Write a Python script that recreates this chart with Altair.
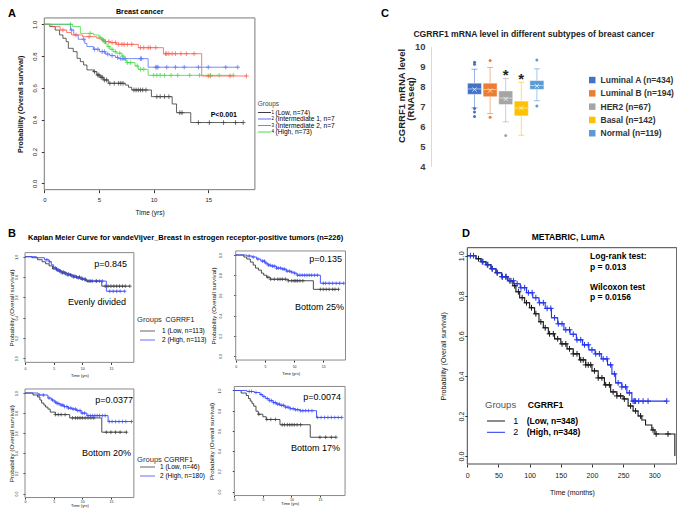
import altair as alt
import pandas as pd

FONT = "Liberation Sans"
PLUS = "M-1,0L1,0M0,-1L0,1"
XMARK = "M-1,-1L1,1M-1,1L1,-1"
W, H = 669, 501   # whole drawing area (page margin 8px)

# ================= DATA =================
# ---- Panel A: Breast cancer, 4 CGRRF1 groups (years) ----
A_colors = ["#3c3c3c", "#5a72ff", "#ff5a4c", "#46dc46"]
A_low_t = [0, 0.5, 1.0, 1.4, 1.7, 2.0, 2.2, 2.65, 3.0, 3.3, 3.6, 3.9, 4.5, 4.8, 5.1, 5.4, 5.85, 7.4, 7.7, 8.0, 9.8, 11.7, 12.1, 13.4]
A_low_s = [1.0, 0.986, 0.964, 0.933, 0.912, 0.891, 0.849, 0.828, 0.786, 0.765, 0.744, 0.713, 0.702, 0.681, 0.667, 0.65, 0.629, 0.618, 0.604, 0.587, 0.545, 0.499, 0.444, 0.382]
A_low_end = 18.2
A_low_c = [4.6, 4.9, 5.0, 5.2, 5.3, 5.5, 5.7, 6.0, 6.4, 6.8, 7.0, 7.2, 8.2, 8.4, 8.6, 8.8, 9.0, 9.3, 10.3, 10.6, 11.0, 11.4, 12.4, 12.6, 14.1, 15.1, 16.4, 17.5, 18.2]
A_int1_t = [0, 2.4, 2.7, 3.1, 3.7, 3.9, 4.5, 5.05, 5.6, 6.0, 6.5, 6.8, 9.5]
A_int1_s = [1.0, 0.964, 0.933, 0.906, 0.88, 0.86, 0.843, 0.828, 0.813, 0.803, 0.792, 0.784, 0.73]
A_int1_end = 17.7
A_int1_c = [2.5, 3.6, 4.6, 4.9, 5.3, 5.5, 5.8, 6.2, 6.7, 7.0, 7.2, 7.4, 8.8, 8.9, 10.2, 10.3, 10.4, 11.2, 12.0, 12.8, 14.1, 15.0, 16.6, 17.7]
A_int2_t = [0, 0.7, 1.45, 2.05, 2.5, 3.5, 4.8, 5.25, 5.55, 6.0, 6.6, 8.6, 10.9, 14.4]
A_int2_s = [1.0, 0.985, 0.964, 0.948, 0.933, 0.922, 0.912, 0.901, 0.891, 0.885, 0.874, 0.853, 0.815, 0.675]
A_int2_end = 18.5
A_int2_c = [1.7, 2.9, 4.1, 5.4, 5.6, 5.9, 6.2, 6.5, 6.8, 7.1, 7.3, 7.6, 8.0, 8.8, 9.1, 9.5, 9.7, 10.2, 11.1, 11.2, 11.4, 11.7, 12.0, 12.5, 13.0, 13.7, 15.0, 15.2, 17.0, 18.5]
A_high_t = [0, 2.6, 3.3, 4.5, 5.0, 5.2, 5.4, 5.6, 5.75, 6.0, 6.3, 6.6, 7.1, 7.3, 7.5, 8.3, 8.6, 9.5]
A_high_s = [1.0, 0.986, 0.943, 0.933, 0.918, 0.906, 0.891, 0.877, 0.86, 0.843, 0.828, 0.818, 0.8, 0.776, 0.759, 0.738, 0.717, 0.679]
A_high_end = 17.3
A_high_c = [2.4, 4.2, 5.1, 5.3, 5.5, 5.9, 6.2, 6.5, 6.9, 7.2, 7.6, 7.9, 8.5, 8.8, 9.1, 10.0, 10.3, 10.6, 11.0, 11.6, 12.2, 13.3, 14.2, 15.2, 16.0, 17.3]

# ---- Panel B: vandeVijver, ER+ tumors (years) ----
B_colors = ["#3a3a3a", "#3b4bff"]
B1_low_t = [0, 1.2, 2.2, 3.0, 3.6, 4.2, 4.8, 5.6, 6.5, 7.4, 8.5, 9.6, 10.6, 13.4]
B1_low_s = [1, 0.99, 0.97, 0.95, 0.93, 0.91, 0.88, 0.86, 0.84, 0.82, 0.80, 0.78, 0.76, 0.71]
B1_low_end = 18.3
B1_low_c = [5.5, 6.0, 6.5, 7.0, 7.5, 8.0, 8.5, 9.0, 9.5, 10.0, 10.5, 11.0, 11.5, 12.5, 14.0, 14.5, 15.0, 15.5, 16.0, 16.5, 17.0, 17.5, 18.3]
B1_high_t = [0, 2.0, 3.4, 4.2, 4.6, 5.0, 5.5, 6.2, 7.0, 8.0, 9.0, 10.0, 10.8, 14.2]
B1_high_s = [1, 0.99, 0.97, 0.95, 0.92, 0.89, 0.87, 0.85, 0.83, 0.81, 0.79, 0.775, 0.76, 0.66]
B1_high_end = 17.4
B1_high_c = [3.8, 4.3, 5.0, 5.3, 5.6, 5.9, 6.3, 6.7, 7.1, 7.6, 8.2, 8.7, 9.3, 9.9, 10.4, 11.3, 11.8, 12.4, 13.0, 13.5, 14.8, 15.4, 16.0, 16.6, 17.4]

B2_low_t = [0, 1.4, 1.9, 2.5, 3.0, 3.4, 3.9, 4.4, 4.8, 5.3, 5.9, 9.0, 13.3]
B2_low_s = [1, 0.98, 0.96, 0.93, 0.9, 0.87, 0.85, 0.82, 0.8, 0.78, 0.76, 0.745, 0.66]
B2_low_end = 17.6
B2_low_c = [5.5, 6.0, 6.6, 7.2, 7.6, 8.0, 8.5, 9.0, 9.6, 10.0, 10.3, 10.6, 11.0, 11.5, 14.5, 15.0, 15.5, 16.0, 16.6, 17.0, 17.6]
B2_high_t = [0, 1.9, 2.8, 3.6, 4.3, 5.0, 5.5, 6.0, 7.0, 8.0, 8.7, 9.5, 10.0, 10.5, 14.5]
B2_high_s = [1, 0.99, 0.98, 0.96, 0.94, 0.92, 0.9, 0.89, 0.87, 0.86, 0.84, 0.83, 0.82, 0.8, 0.72]
B2_high_end = 18.5
B2_high_c = [2.3, 3.0, 3.8, 4.6, 4.9, 5.2, 5.6, 5.9, 6.3, 6.6, 7.0, 7.3, 7.7, 8.1, 8.4, 8.8, 9.2, 9.6, 10.1, 10.6, 11.0, 11.4, 11.8, 12.2, 12.6, 13.0, 13.5, 14.0, 15.0, 15.4, 16.0, 16.6, 17.2, 17.8, 18.5]

B3_low_t = [0, 1.4, 2.2, 2.6, 2.9, 3.3, 3.6, 4.0, 4.4, 5.3, 7.8, 13.4]
B3_low_s = [1, 0.98, 0.96, 0.93, 0.9, 0.88, 0.86, 0.84, 0.81, 0.785, 0.752, 0.61]
B3_low_end = 17.7
B3_low_c = [5.3, 5.8, 6.3, 7.0, 8.3, 8.8, 9.2, 9.6, 10.0, 10.5, 11.0, 11.5, 12.0, 14.2, 15.0, 15.8, 16.6, 17.7]
B3_high_t = [0, 2.3, 4.0, 4.6, 5.1, 5.6, 6.1, 6.8, 7.5, 8.2, 9.0, 9.8, 10.8, 14.5]
B3_high_s = [1, 0.98, 0.95, 0.93, 0.91, 0.895, 0.88, 0.865, 0.85, 0.84, 0.825, 0.8, 0.775, 0.716]
B3_high_end = 18.6
B3_high_c = [2.5, 3.2, 4.2, 4.8, 5.3, 5.6, 5.9, 6.3, 6.6, 6.9, 7.3, 7.6, 8.0, 8.4, 8.8, 9.2, 9.6, 10.0, 10.4, 11.0, 11.4, 11.8, 12.2, 12.6, 13.0, 13.5, 14.0, 14.7, 15.2, 15.8, 16.4, 17.0, 17.6, 18.6]

B4_low_t = [0, 1.2, 2.1, 2.5, 2.8, 3.1, 3.4, 3.8, 4.2, 5.0, 5.6, 8.0, 13.3]
B4_low_s = [1, 0.975, 0.95, 0.92, 0.895, 0.87, 0.845, 0.795, 0.765, 0.74, 0.713, 0.661, 0.537]
B4_low_end = 17.8
B4_low_c = [4.3, 5.7, 6.4, 7.2, 8.4, 8.8, 9.3, 9.7, 10.1, 10.5, 11.0, 11.6, 15.0, 16.0, 17.0, 17.8]
B4_high_t = [0, 2.2, 3.5, 4.5, 5.0, 5.5, 6.1, 6.8, 7.4, 8.0, 8.9, 9.8, 10.6, 11.5, 14.4]
B4_high_s = [1, 0.99, 0.98, 0.96, 0.94, 0.92, 0.9, 0.88, 0.865, 0.853, 0.835, 0.82, 0.81, 0.8, 0.733]
B4_high_end = 18.8
B4_high_c = [2.6, 3.0, 3.8, 4.7, 5.2, 5.8, 6.2, 6.5, 6.9, 7.2, 7.6, 7.9, 8.3, 8.6, 9.0, 9.4, 9.8, 10.3, 10.7, 11.1, 11.6, 12.0, 12.5, 13.0, 13.6, 14.6, 15.2, 15.8, 16.4, 17.0, 17.6, 18.2, 18.8]

# ---- Panel C: CGRRF1 mRNA by subtype (box summaries) ----
C_sub = ["Luminal A (n=434)", "Luminal B (n=194)", "HER2 (n=67)", "Basal (n=142)", "Normal (n=119)"]
C_colors = ["#4472C4", "#ED7D31", "#A5A5A5", "#FFC000", "#5B9BD5"]
C_q1 = [7.61, 7.49, 7.10, 6.53, 7.86]
C_q3 = [8.17, 8.17, 7.78, 7.27, 8.30]
C_med = [7.88, 7.85, 7.42, 6.93, 8.05]
C_mean = [7.85, 7.80, 7.38, 6.92, 8.03]
C_lo = [6.93, 6.65, 6.23, 5.56, 7.29]
C_hi = [8.87, 8.96, 8.40, 8.22, 8.89]
C_out_sub = ["Luminal A (n=434)"] * 5 + ["Luminal B (n=194)"] * 2 + ["HER2 (n=67)"] + ["Normal (n=119)"] * 2
C_out_val = [9.22, 9.12, 6.90, 6.72, 6.50, 9.31, 6.46, 5.54, 9.33, 7.02]
C_star_sub = ["HER2 (n=67)", "Basal (n=142)"]
C_star_val = [8.80, 8.57]

# ---- Panel D: METABRIC LumA (months) ----
D_colors = ["#1a1a1a", "#2233ee"]
D_low_t = [0, 14, 22, 30, 38, 46, 55, 65, 73, 78, 84, 92, 100, 108, 115, 122, 130, 140, 150, 160, 170, 180, 190, 200, 210, 220, 230, 240, 250, 258, 266, 274, 280, 286, 296, 301, 333]
D_low_s = [1, 0.985, 0.97, 0.955, 0.935, 0.915, 0.895, 0.875, 0.85, 0.82, 0.79, 0.765, 0.74, 0.71, 0.67, 0.64, 0.61, 0.585, 0.56, 0.535, 0.51, 0.48, 0.455, 0.425, 0.39, 0.355, 0.32, 0.3, 0.285, 0.25, 0.225, 0.2, 0.18, 0.155, 0.13, 0.11, 0.0]
D_low_end = 333
D_low_c = [18, 25, 33, 40, 48, 56, 62, 70, 76, 82, 88, 95, 103, 110, 118, 125, 132, 138, 145, 152, 158, 164, 170, 176, 182, 186, 190, 194, 198, 204, 210, 216, 222, 228, 234, 240, 246, 252, 262, 270, 278, 298, 303, 322]
D_high_t = [0, 14, 22, 30, 38, 46, 55, 65, 75, 85, 95, 105, 115, 125, 135, 145, 155, 165, 175, 185, 195, 205, 215, 225, 232, 238, 248, 256, 264]
D_high_s = [1, 0.985, 0.97, 0.955, 0.935, 0.915, 0.895, 0.875, 0.86, 0.84, 0.815, 0.79, 0.765, 0.737, 0.69, 0.66, 0.63, 0.608, 0.58, 0.555, 0.53, 0.51, 0.485, 0.455, 0.41, 0.365, 0.345, 0.315, 0.274]
D_high_end = 320
D_high_c = [5, 10, 24, 32, 40, 48, 56, 62, 68, 74, 80, 86, 92, 98, 104, 110, 116, 122, 128, 134, 140, 146, 152, 158, 164, 170, 176, 182, 188, 194, 200, 206, 212, 218, 224, 230, 236, 242, 248, 254, 260, 266, 268, 270, 275, 282, 290, 320]

# ================= HELPERS =================
ONE = pd.DataFrame({"k": [0]})


def X(v):  # page-pixel -> drawing-area pixel
    return v - 8


def Y(v):
    return v - 8


def km_frames(curves):
    rows, crows = [], []
    for g, ts, ss, tend, cens in curves:
        for t, s in zip(ts, ss):
            rows.append({"t": t, "s": s, "g": g})
        rows.append({"t": tend, "s": ss[-1], "g": g})
        for c in cens:
            v = ss[0]
            for t, s in zip(ts, ss):
                if t <= c:
                    v = s
            crows.append({"t": c, "s": v, "g": g})
    return pd.DataFrame(rows), pd.DataFrame(crows)


def T(text, x, y, size=8, weight="normal", align="left", baseline="middle", angle=None, color="#000"):
    kw = dict(text=text, fontSize=size, fontWeight=weight, align=align, baseline=baseline, color=color, font=FONT)
    if angle is not None:
        kw["angle"] = angle
    return alt.Chart(ONE).mark_text(**kw).encode(x=alt.value(X(x)), y=alt.value(Y(y)))


def R(x1, x2, y, color, w=1.0):
    return alt.Chart(ONE).mark_rule(color=color, strokeWidth=w).encode(
        x=alt.value(X(x1)), x2=alt.value(X(x2)), y=alt.value(Y(y)))


def km_panel(curves, colors, xmax, x0, xpx_per, ytop1, ybot0, xvals, ax_x, ax_y, frame, lw, csize, cstroke,
             ann, opacity=1.0):
    """x0: page px of t=0 ; xpx_per: px per unit ; ytop1/ybot0: page px of surv 1.0 / 0.0"""
    keys = [c[0] for c in curves]
    ldf, cdf = km_frames(curves)
    unit = ybot0 - ytop1
    xr = [X(x0), X(x0 + xmax * xpx_per)]
    yr = [Y(ybot0 + 0.04 * unit), Y(ytop1 - 0.04 * unit)]

    def xs():
        return alt.Scale(domain=[0, xmax], range=xr, nice=False, zero=False)

    def ys():
        return alt.Scale(domain=[-0.04, 1.04], range=yr, nice=False, zero=False)

    def col():
        return alt.Color("g:N", scale=alt.Scale(domain=keys, range=colors), legend=None)

    xaxis = alt.Axis(orient="bottom", offset=yr[0] - H, values=xvals, format="d", labelFontSize=ax_x["fs"],
                     tickSize=ax_x["tick"], labelPadding=ax_x["lpad"], domain=False, grid=False,
                     title=ax_x["title"], titleFontSize=ax_x["tfs"], titleFontWeight="normal",
                     titlePadding=ax_x["tpad"], labelFlush=False, labelOverlap=False, tickColor="#333",
                     labelColor="#222", titleColor="#111")
    yaxis = alt.Axis(orient="left", offset=-xr[0], values=[0, 0.2, 0.4, 0.6, 0.8, 1.0], format=".1f",
                     labelFontSize=ax_y["fs"], labelAngle=270, labelAlign="center", labelBaseline="bottom",
                     tickSize=ax_y["tick"], labelPadding=ax_y["lpad"], domain=False, grid=False,
                     title=ax_y["title"], titleFontSize=ax_y["tfs"], titleFontWeight=ax_y["tw"],
                     titlePadding=ax_y["tpad"], labelFlush=False, labelOverlap=False, tickColor="#333",
                     labelColor="#222", titleColor="#111")
    fdf = pd.DataFrame({"x0": [0], "x1": [xmax], "y0": [-0.04], "y1": [1.04]})
    box = alt.Chart(fdf).mark_rect(fill="transparent", stroke=frame, strokeWidth=1).encode(
        x=alt.X("x0:Q", scale=xs(), axis=xaxis), x2="x1:Q", y=alt.Y("y0:Q", scale=ys(), axis=yaxis), y2="y1:Q")
    lines = alt.Chart(ldf).mark_line(interpolate="step-after", strokeWidth=lw, opacity=opacity).encode(
        x=alt.X("t:Q", scale=xs(), axis=None), y=alt.Y("s:Q", scale=ys(), axis=None), color=col())
    cens = alt.Chart(cdf).mark_point(shape=PLUS, size=csize, filled=False, strokeWidth=cstroke,
                                     opacity=opacity).encode(
        x=alt.X("t:Q", scale=xs(), axis=None), y=alt.Y("s:Q", scale=ys(), axis=None), color=col())
    return [box, lines, cens] + list(ann)


# ================= PANEL A =================
A_curves = [("Low", A_low_t, A_low_s, A_low_end, A_low_c),
            ("Int1", A_int1_t, A_int1_s, A_int1_end, A_int1_c),
            ("Int2", A_int2_t, A_int2_s, A_int2_end, A_int2_c),
            ("High", A_high_t, A_high_s, A_high_end, A_high_c)]
A_leg_y = [112.5, 119, 125.5, 132]
A_leg_txt = ["(Low, n=74)", "(Intermediate 1, n=7", "(Intermediate 2, n=7", "(High, n=73)"]
A_ann = [T("A", 8, 8, 11, "bold", baseline="top"),
         T("Breast cancer", 139.7, 11.5, 7.2, "bold", align="center"),
         T("P<0.001", 210.7, 115.3, 7, "bold"),
         T("Groups", 257.7, 104, 6.5, color="#444")]
for i in range(4):
    A_ann.append(R(258, 271, A_leg_y[i], A_colors[i], 1))
    A_ann.append(T(str(i + 1), 271.6, A_leg_y[i], 4.5))
    A_ann.append(T(A_leg_txt[i], 275.5, A_leg_y[i], 6.6))
panelA = km_panel(A_curves, A_colors, 19.27, 44.3, 10.93, 24.3, 183.3, [0, 5, 10, 15],
                  dict(fs=6, tick=3, lpad=3.5, title="Time (yrs)", tfs=6.5, tpad=7),
                  dict(fs=6, tick=3, lpad=4, title="Probability (Overall survival)", tfs=7.2, tw="bold", tpad=6.5),
                  "#7a7a7a", 0.9, 22, 0.8, A_ann, 0.9)


# ================= PANEL B =================
def b_legend(gy, y1, y2, tx, lowtxt, hightxt, cx):
    return [T("Groups", 137, gy, 7.6, color="#333"),
            T("CGRRF1", cx, gy, 7, color="#111"),
            R(140, 155, y1, B_colors[0], 0.8),
            R(140, 155, y2, B_colors[1], 0.8),
            T(lowtxt, tx, y1, 6.5),
            T(hightxt, tx, y2, 6.5)]


def b_panel(low, high, xmax, x0, xper, ytop1, ybot0, ylpad, ytpad, pval, label, pv_xy, lab_xy, extra=(),
            xax=(2, 2, 3.5)):
    curves = [("Low",) + low, ("High",) + high]
    ann = [T(pval, pv_xy[0], pv_xy[1], 9, align="right"),
           T(label, lab_xy[0], lab_xy[1], 9, align="right")] + list(extra)
    return km_panel(curves, B_colors, xmax, x0, xper, ytop1, ybot0, [0, 5, 10, 15],
                    dict(fs=3.5, tick=xax[0], lpad=xax[1], title="Time (yrs)", tfs=4, tpad=xax[2]),
                    dict(fs=3.5, tick=2, lpad=ylpad, title="Probability (Overall survival)", tfs=6.2,
                         tw="normal", tpad=ytpad),
                    "#8a8a8a", 0.9, 14, 0.7, ann)


B1_extra = [T("B", 8, 228, 11, "bold", baseline="top"),
            T("Kaplan Meier Curve for vandeVijver_Breast in estrogen receptor-positive tumors (n=226)",
              28, 238, 7.5, "bold")] + \
           b_legend(320, 331, 340, 162, "1 (Low, n=113)", "2 (High, n=113)", 165.5)
panelB1 = b_panel((B1_low_t, B1_low_s, B1_low_end, B1_low_c), (B1_high_t, B1_high_s, B1_high_end, B1_high_c),
                  19.0, 25, 5.73, 256.7, 358.3, 4.7, 0.3,
                  "p=0.845", "Evenly divided", (127, 264), (126, 302), B1_extra)
panelB2 = b_panel((B2_low_t, B2_low_s, B2_low_end, B2_low_c), (B2_high_t, B2_high_s, B2_high_end, B2_high_c),
                  18.8, 235.7, 5.84, 255, 356, 11, 2.5,
                  "p=0.135", "Bottom 25%", (342, 259), (344, 307))
panelB3 = b_panel((B3_low_t, B3_low_s, B3_low_end, B3_low_c), (B3_high_t, B3_high_s, B3_high_end, B3_high_c),
                  19.0, 25, 5.73, 393, 493.5, 4.7, 0.3,
                  "p=0.0377", "Bottom 20%", (133, 400), (131, 453),
                  b_legend(460, 467, 476, 160, "1 (Low, n=46)", "2 (High, n=180)", 164),
                  xax=(1.5, 0.5, 0.5))
panelB4 = b_panel((B4_low_t, B4_low_s, B4_low_end, B4_low_c), (B4_high_t, B4_high_s, B4_high_end, B4_high_c),
                  19.4, 234.3, 5.71, 390.5, 491.5, 11, 2.5,
                  "p=0.0074", "Bottom 17%", (341, 397), (340, 448), xax=(1.5, 0.5, 0.5))

# ================= PANEL C =================
cdf = pd.DataFrame({"sub": C_sub, "q1": C_q1, "q3": C_q3, "med": C_med, "mean": C_mean, "lo": C_lo, "hi": C_hi})
odf = pd.DataFrame({"sub": C_out_sub, "v": C_out_val})
sdf = pd.DataFrame({"sub": C_star_sub, "v": C_star_val})


def cx():
    return alt.X("sub:N", sort=C_sub,
                 scale=alt.Scale(type="band", domain=C_sub, paddingInner=0.1, paddingOuter=0,
                                 range=[X(467.5), X(543.9)]), axis=None)


def cy(field, axis=None):
    return alt.Y(field, scale=alt.Scale(domain=[4, 10], nice=False, zero=False, range=[Y(166.3), Y(46.7)]),
                 axis=axis)


def ccol(legend=None):
    return alt.Color("sub:N", sort=C_sub, scale=alt.Scale(domain=C_sub, range=C_colors), legend=legend)


c_legend = alt.Legend(title=None, orient="none", legendX=X(588), legendY=Y(80.3) - 4.5,
                      symbolType="square", symbolSize=42, symbolStrokeWidth=0,
                      labelFontSize=8.5, labelFontWeight="bold", labelColor="#333",
                      rowPadding=4.3, labelOffset=4, labelFont=FONT, padding=0, symbolOpacity=1)
c_yaxis = alt.Axis(orient="left", offset=-X(431), values=[4, 5, 6, 7, 8, 9, 10], format="d", labelFontSize=9.5,
                   labelFontWeight="bold", labelColor="#404040", ticks=False, domain=True, domainColor="#d9d9d9",
                   domainWidth=1, grid=False, title=None, labelPadding=6, labelFlush=False)
c_whisk = alt.Chart(cdf).mark_rule(strokeWidth=1, opacity=0.55).encode(
    x=cx(), y=cy("lo:Q", c_yaxis), y2="hi:Q", color=ccol())
c_box = alt.Chart(cdf).mark_bar(stroke="#ffffff", strokeOpacity=0.45, strokeWidth=1).encode(
    x=cx(), y=cy("q1:Q"), y2="q3:Q", color=ccol(c_legend))
c_caplo = alt.Chart(cdf).mark_tick(size=6, thickness=1, opacity=0.6).encode(x=cx(), y=cy("lo:Q"), color=ccol())
c_caphi = alt.Chart(cdf).mark_tick(size=6, thickness=1, opacity=0.6).encode(x=cx(), y=cy("hi:Q"), color=ccol())
c_med = alt.Chart(cdf).mark_tick(size=13, thickness=1, color="#ffffff", opacity=0.55).encode(x=cx(), y=cy("med:Q"))
c_mean = alt.Chart(cdf).mark_point(shape=XMARK, size=18, filled=False, color="#ffffff", opacity=0.7,
                                   strokeWidth=1).encode(x=cx(), y=cy("mean:Q"))
c_out = alt.Chart(odf).mark_circle(size=9, opacity=1).encode(x=cx(), y=cy("v:Q"), color=ccol())
c_star = alt.Chart(sdf).mark_text(text="*", fontSize=15, fontWeight="bold", dy=4, color="#222",
                                  font=FONT).encode(x=cx(), y=cy("v:Q"))
panelC = [c_whisk, c_box, c_caplo, c_caphi, c_med, c_mean, c_out, c_star,
          T("C", 381, 8, 11, "bold", baseline="top"),
          T("CGRRF1 mRNA level in different subtypes of breast cancer", 533.8, 33.5, 8.6, "bold",
            align="center", color="#222"),
          T("CGRRF1 mRNA level", 402, 96, 9.5, "bold", align="center", angle=270, color="#222"),
          T("(RNAseq)", 410.5, 99, 9.5, "bold", align="center", angle=270, color="#222")]

# ================= PANEL D =================
D_curves = [("Low", D_low_t, D_low_s, D_low_end, D_low_c),
            ("High", D_high_t, D_high_s, D_high_end, D_high_c)]
D_ann = [T("D", 462, 228, 11, "bold", baseline="top"),
         T("METABRIC, LumA", 568.3, 237.3, 8.5, "bold", align="center"),
         T("Log-rank test:", 590, 256, 8.5, "bold"),
         T("p = 0.013", 590, 266.7, 8.5, "bold"),
         T("Wilcoxon test", 590, 286.7, 8.5, "bold"),
         T("p = 0.0156", 590, 296.7, 8.5, "bold"),
         T("Groups", 485, 405, 9.5, color="#555"),
         T("CGRRF1", 527.7, 405, 8.7, "bold"),
         R(487, 505, 421, D_colors[0], 1),
         R(487, 505, 432.3, D_colors[1], 1),
         T("1", 515.7, 421, 9, align="center"),
         T("2", 515.7, 432.3, 9, align="center"),
         T("(Low, n=348)", 526.7, 421, 8.5, "bold"),
         T("(High, n=348)", 526.7, 432.3, 8.5, "bold")]
panelD = km_panel(D_curves, D_colors, 336, 467.3, 0.6233, 255.7, 456,
                  [0, 50, 100, 150, 200, 250, 300],
                  dict(fs=7.1, tick=3, lpad=4.5, title="Time (months)", tfs=7, tpad=10),
                  dict(fs=7.1, tick=2.5, lpad=0.5, title="Probability (Overall survival)", tfs=7.1,
                       tw="normal", tpad=11),
                  "#444", 1.1, 34, 1.0, D_ann)

# ================= ASSEMBLE (one flat layer, each layer with its own scales) =================
layers = panelA + panelB1 + panelB2 + panelB3 + panelB4 + panelC + panelD
chart = alt.layer(*layers).resolve_scale(
    x="independent", y="independent", color="independent"
).properties(
    width=W, height=H, autosize=alt.AutoSizeParams(type="none"), padding=0
).configure(font=FONT).configure_view(stroke=None).configure_axis(labelFont=FONT, titleFont=FONT)

chart.save("out.html", embed_options={"renderer": "svg", "actions": False})
